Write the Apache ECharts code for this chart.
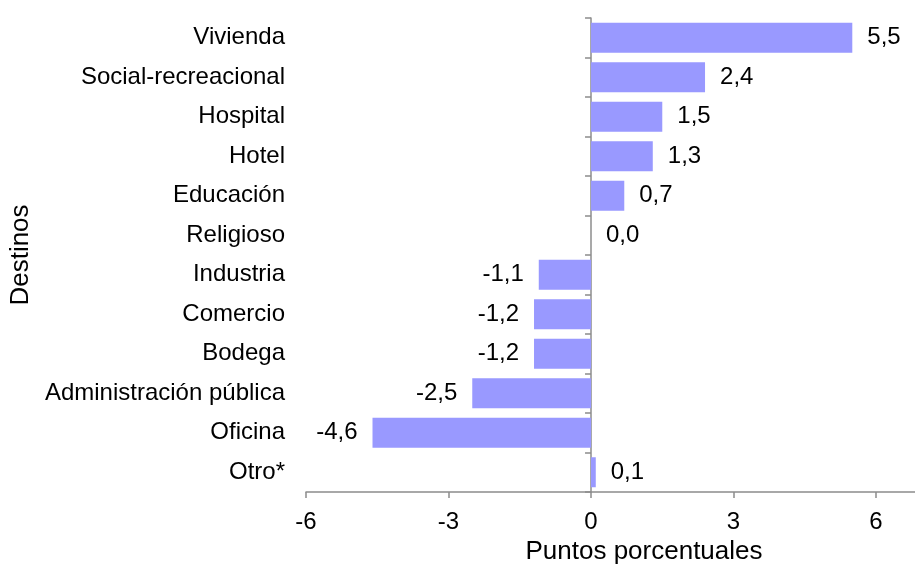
<!DOCTYPE html>
<html>
<head>
<meta charset="utf-8">
<script src="https://cdn.jsdelivr.net/npm/echarts@6/dist/echarts.min.js"></script>
<style>
html,body{margin:0;padding:0;background:#fff;}
#chart{width:915px;height:565px;}
</style>
</head>
<body>
<div id="chart"></div>
<script>
const categories = ["Vivienda","Social-recreacional","Hospital","Hotel","Educación","Religioso","Industria","Comercio","Bodega","Administración pública","Oficina","Otro*"];
const values = [5.5, 2.4, 1.5, 1.3, 0.7, 0.0, -1.1, -1.2, -1.2, -2.5, -4.6, 0.1];
const xTicks = [-6, -3, 0, 3, 6];
const xAxisName = "Puntos porcentuales";
const yAxisName = "Destinos";

const FONT = "'Liberation Sans', Arial, sans-serif";
const AXIS_COLOR = "#8c8c8c";

const chart = echarts.init(document.getElementById('chart'), null, {renderer: 'canvas'});
chart.setOption({
  animation: false,
  backgroundColor: '#ffffff',
  textStyle: {fontFamily: FONT},
  grid: {left: 306, right: 0, top: 18, bottom: 73, containLabel: false, outerBoundsMode: 'none'},
  xAxis: {
    type: 'value',
    min: -6,
    max: 6.82,
    interval: 3,
    name: xAxisName,
    nameLocation: 'middle',
    nameGap: 46,
    nameTextStyle: {fontSize: 26, color: '#000', fontFamily: FONT, padding: [0, 0, 0, 67]},
    axisLine: {show: true, onZero: false, lineStyle: {color: AXIS_COLOR, width: 1.5}},
    axisTick: {show: true, length: 6, customValues: xTicks, lineStyle: {color: AXIS_COLOR, width: 1.5}},
    axisLabel: {customValues: xTicks, fontSize: 24, color: '#000', margin: 18, fontFamily: FONT},
    splitLine: {show: false}
  },
  yAxis: {
    type: 'category',
    data: categories,
    inverse: true,
    name: yAxisName,
    nameLocation: 'middle',
    nameGap: 272,
    nameTextStyle: {fontSize: 26, color: '#000', fontFamily: FONT},
    axisLine: {show: true, onZero: true, lineStyle: {color: AXIS_COLOR, width: 1.5}},
    axisTick: {show: true, length: 6, lineStyle: {color: AXIS_COLOR, width: 1.5}},
    axisLabel: {fontSize: 24, color: '#000', margin: 21, fontFamily: FONT}
  },
  series: [{
    type: 'bar',
    barWidth: 30,
    itemStyle: {color: '#9999ff'},
    label: {
      show: true,
      fontSize: 24,
      color: '#000',
      fontFamily: FONT,
      distance: 15,
      formatter: p => p.value.toFixed(1).replace('.', ',')
    },
    data: values.map(v => ({
      value: v,
      label: {position: v < 0 ? 'left' : 'right'}
    }))
  }]
});
</script>
</body>
</html>
